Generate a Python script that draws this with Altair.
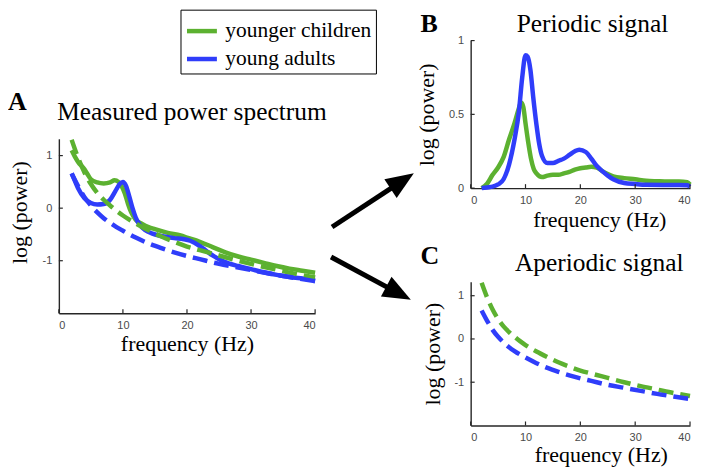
import altair as alt
import pandas as pd

GREEN = "#5cb130"
BLUE = "#2f3dfa"
groups = ["younger children", "young adults"]

# Panel A: measured power spectra
f_meas_child = [2, 2.5, 3, 4, 4.5, 5, 6, 7, 8, 8.7, 9.3, 9.8, 10.3, 10.8, 11.3, 12, 13, 14, 15, 17, 19, 20, 22, 24, 26, 28, 30, 32, 34, 36, 38, 40]
p_meas_child = [1.10, 0.98, 0.88, 0.74, 0.64, 0.55, 0.49, 0.47, 0.49, 0.53, 0.50, 0.42, 0.28, 0.08, -0.08, -0.22, -0.30, -0.36, -0.40, -0.47, -0.52, -0.56, -0.64, -0.74, -0.84, -0.92, -0.98, -1.04, -1.10, -1.15, -1.19, -1.23]
f_meas_adult = [2, 2.5, 3, 4, 5, 6, 7, 8, 8.8, 9.5, 10, 10.5, 11, 11.5, 12, 12.7, 13.5, 14.5, 16, 18, 19.5, 20.5, 22, 23, 24, 25, 26.5, 28, 30, 32, 34, 36, 38, 40]
p_meas_adult = [0.66, 0.52, 0.38, 0.19, 0.10, 0.07, 0.08, 0.16, 0.32, 0.46, 0.50, 0.42, 0.22, 0.00, -0.18, -0.33, -0.42, -0.48, -0.53, -0.57, -0.59, -0.62, -0.72, -0.81, -0.90, -0.97, -1.05, -1.10, -1.16, -1.22, -1.27, -1.31, -1.34, -1.37]

# Aperiodic fits (panels A and C)
f_ap = [2, 3, 4, 5, 6, 7, 8, 9, 10, 12, 14, 16, 18, 20, 22, 25, 28, 31, 34, 37, 40]
ap_child = [1.30, 0.96, 0.68, 0.46, 0.29, 0.16, 0.05, -0.05, -0.14, -0.29, -0.42, -0.54, -0.64, -0.73, -0.80, -0.90, -1.00, -1.09, -1.17, -1.25, -1.32]
ap_adult = [0.66, 0.42, 0.21, 0.05, -0.08, -0.19, -0.28, -0.36, -0.43, -0.56, -0.67, -0.76, -0.84, -0.91, -0.97, -1.06, -1.13, -1.20, -1.27, -1.33, -1.39]

# Periodic signal (panel B)
f_per_child = [2, 3, 4, 5, 6, 7, 8, 8.7, 9.2, 9.6, 10, 10.5, 11, 11.5, 12, 13, 14, 15, 16, 17, 18, 19, 20, 21, 22, 23, 24, 25, 26, 28, 30, 32, 34, 36, 38, 39.5, 40]
p_per_child = [0.0, 0.03, 0.09, 0.14, 0.21, 0.33, 0.44, 0.53, 0.58, 0.55, 0.44, 0.31, 0.20, 0.13, 0.10, 0.075, 0.085, 0.09, 0.09, 0.10, 0.11, 0.125, 0.135, 0.14, 0.145, 0.14, 0.115, 0.095, 0.08, 0.068, 0.06, 0.05, 0.047, 0.045, 0.045, 0.04, 0.025]
f_per_adult = [2, 3, 4, 5, 6, 7, 8, 8.8, 9.4, 10, 10.4, 10.9, 11.4, 12, 12.5, 13, 14, 15, 16, 17, 18, 19, 19.8, 21, 22, 23, 24, 25, 26, 28, 30, 32, 35, 38, 39.5, 40]
p_per_adult = [0.0, 0.005, 0.01, 0.025, 0.06, 0.16, 0.33, 0.52, 0.75, 0.90, 0.89, 0.80, 0.62, 0.43, 0.30, 0.22, 0.17, 0.17, 0.185, 0.20, 0.225, 0.25, 0.26, 0.245, 0.20, 0.15, 0.115, 0.085, 0.06, 0.035, 0.028, 0.023, 0.022, 0.022, 0.02, 0.01]

x_ticks = [0, 10, 20, 30, 40]
y_ticks_log = [-1, 0, 1]
y_ticks_per = [0, 0.5, 1]


def long(f1, v1, f2, v2):
    return pd.DataFrame({
        "f": list(f1) + list(f2),
        "p": list(v1) + list(v2),
        "g": [groups[0]] * len(f1) + [groups[1]] * len(f2),
    })


df_meas = long(f_meas_child, p_meas_child, f_meas_adult, p_meas_adult)
df_ap = long(f_ap, ap_child, f_ap, ap_adult)
df_per = long(f_per_child, p_per_child, f_per_adult, p_per_adult)

SERIF = "Liberation Serif"
SANS = "Liberation Sans"
AXC = "#262626"
LW = 4.5
DASH = [15, 7]
TITLE_FS = 25.5
LETTER_FS = 26
AXT_FS = 22

color_scale = alt.Scale(domain=groups, range=[GREEN, BLUE])
LABEL_EXPR = "'' + datum.value"


def text_layer(txt, x, y, size, bold=False, align="left", angle=0):
    return alt.Chart(pd.DataFrame({"t": [txt]})).mark_text(
        font=SERIF, fontSize=size, fontWeight="bold" if bold else "normal",
        color="black", align=align, baseline="alphabetic", angle=angle,
    ).encode(text="t:N", x=alt.value(x), y=alt.value(y))


def tick_layers(xenc, yenc, xvals, yvals, ybottom):
    tx = alt.Chart(pd.DataFrame({"f": xvals})).mark_rule(color=AXC, strokeWidth=1.2).encode(
        x=xenc, y=alt.value(ybottom), y2=alt.value(ybottom - 4))
    ty = alt.Chart(pd.DataFrame({"p": yvals})).mark_rule(color=AXC, strokeWidth=1.2).encode(
        y=yenc, x=alt.value(0), x2=alt.value(4))
    return [tx, ty]


# ---------- Panel A ----------
AW, ROW1 = 257, 148
A_TOP, A_BOT = 98.5, 273.5
xA = alt.X("f:Q", scale=alt.Scale(domain=[0, 40], nice=False),
           axis=alt.Axis(values=x_ticks, title="frequency (Hz)", offset=A_BOT - ROW1,
                         labelExpr=LABEL_EXPR))
yA = alt.Y("p:Q", scale=alt.Scale(domain=[-2, 1.32], range=[A_BOT, A_TOP], nice=False, zero=False),
           axis=alt.Axis(values=y_ticks_log, title=None, labelExpr=LABEL_EXPR))
colA = alt.Color("g:N", scale=color_scale, sort=groups,
                 legend=alt.Legend(title=None, orient="none", legendX=122, legendY=-31,
                                   symbolType="stroke", symbolSize=900, symbolStrokeWidth=4.5,
                                   labelFont=SERIF, labelFontSize=21.5, labelColor="black",
                                   labelOffset=6, strokeColor="black", fillColor="white",
                                   padding=4, rowPadding=0, labelLimit=400))

a_meas = alt.Chart(df_meas).mark_line(strokeWidth=LW, interpolate="monotone").encode(
    x=xA, y=yA, color=colA, detail="g:N")
a_ap = alt.Chart(df_ap).mark_line(strokeWidth=LW, strokeDash=DASH, interpolate="monotone").encode(
    x=xA, y=yA, color=colA, detail="g:N")


def arrow(x0, y0, x1, y1, xt, yt, ang):
    line = alt.Chart(pd.DataFrame({"a": [0]})).mark_rule(color="black", strokeWidth=5, strokeCap="butt").encode(
        x=alt.value(x0), y=alt.value(y0), x2=alt.value(x1), y2=alt.value(y1))
    head = alt.Chart(pd.DataFrame({"a": [0]})).mark_point(
        shape="M0,0L-0.8,2L0.8,2Z", size=784, filled=True, color="black", opacity=1,
        strokeWidth=0, angle=ang).encode(x=alt.value(xt), y=alt.value(yt))
    return [line, head]


panelA = alt.layer(
    a_meas, a_ap,
    *tick_layers(xA, yA, x_ticks, y_ticks_log, A_BOT),
    text_layer("A", -51, 70, LETTER_FS, bold=True),
    text_layer("Measured power spectrum", 133.5, 80, TITLE_FS, align="center"),
    text_layer("log (power)", -32, 172.5, AXT_FS, align="center", angle=270),
    *arrow(274, 187, 341.8, 142.4, 356, 133, 56.6),
    *arrow(273, 217, 338, 252, 353, 260, 118.3),
).properties(width=AW, height=ROW1)

# ---------- Panel B ----------
BW, BH = 220, 148
xB = alt.X("f:Q", scale=alt.Scale(domain=[0, 40], nice=False),
           axis=alt.Axis(values=x_ticks, title=None, labelExpr=LABEL_EXPR))
yB = alt.Y("p:Q", scale=alt.Scale(domain=[0, 1], nice=False),
           axis=alt.Axis(values=y_ticks_per, title="log (power)", labelExpr=LABEL_EXPR))
colB = alt.Color("g:N", scale=color_scale, legend=None)
panelB = alt.layer(
    alt.Chart(df_per).mark_line(strokeWidth=LW, interpolate="monotone").encode(
        x=xB, y=yB, color=colB, detail="g:N"),
    *tick_layers(xB, yB, x_ticks, y_ticks_per, BH),
    text_layer("B", -50.3, -9, LETTER_FS, bold=True),
    text_layer("Periodic signal", 122.2, -8.5, TITLE_FS, align="center"),
    text_layer("frequency (Hz)", 129.5, 186.5, AXT_FS, align="center"),
).properties(width=BW, height=BH)

# ---------- Panel C ----------
CH = 144
yC = alt.Y("p:Q", scale=alt.Scale(domain=[-2, 1.32], nice=False, zero=False),
           axis=alt.Axis(values=y_ticks_log, title="log (power)", labelExpr=LABEL_EXPR))
panelC = alt.layer(
    alt.Chart(df_ap).mark_line(strokeWidth=LW, strokeDash=DASH, interpolate="monotone").encode(
        x=xB, y=yC, color=colB, detail="g:N"),
    *tick_layers(xB, yC, x_ticks, y_ticks_log, CH),
    text_layer("C", -50.3, -18, LETTER_FS, bold=True),
    text_layer("Aperiodic signal", 129, -11, TITLE_FS, align="center"),
    text_layer("frequency (Hz)", 131, 181, AXT_FS, align="center"),
).properties(width=BW, height=CH)

spacer = alt.Chart(pd.DataFrame({"a": [0]})).mark_point(opacity=0).encode(
    x=alt.X("a:Q", axis=None), y=alt.Y("a:Q", axis=None)).properties(width=AW, height=CH)

chart = alt.concat(
    panelA, panelB, spacer, panelC, columns=2,
    spacing={"row": 94, "column": 156}, bounds="flush",
).resolve_scale(color="independent").configure_view(stroke=None).configure_axis(
    grid=False, ticks=False, domainColor=AXC, domainWidth=1.4,
    labelFont=SANS, labelFontSize=11, labelColor="#4a4a4a", labelPadding=6,
    titleFont=SERIF, titleFontSize=AXT_FS, titleFontWeight="normal", titleColor="black",
).configure_axisX(titlePadding=3).configure_axisY(titlePadding=9.5, labelPadding=7).properties(
    padding={"left": 0, "top": 0, "right": 0, "bottom": 0},
)

chart.save("out.html", embed_options={"renderer": "svg", "actions": False})
